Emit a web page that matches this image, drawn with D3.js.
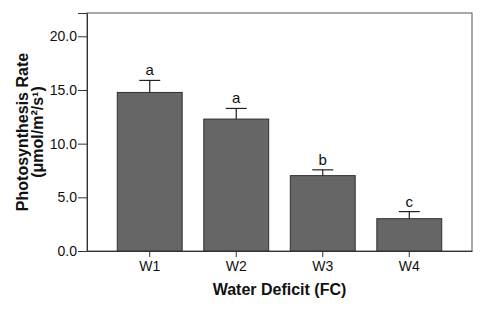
<!DOCTYPE html>
<html>
<head>
<meta charset="utf-8">
<script src="https://cdn.jsdelivr.net/npm/d3@7"></script>
<style>
  html, body { margin: 0; padding: 0; background: #fff; }
  svg { display: block; font-family: "Liberation Sans", Arial, sans-serif; }
</style>
</head>
<body>
<svg id="chart" width="484" height="312"></svg>
<script>
const categories = ["W1", "W2", "W3", "W4"];
const meanValues = [14.77, 12.29, 7.02, 3.01];
const errorValues = [1.12, 0.99, 0.54, 0.66];
const groupLetters = ["a", "a", "b", "c"];
const yTickValues = [0, 5, 10, 15, 20];

const svg = d3.select("#chart");
const pLeft = 87, pRight = 472, pTop = 13, pBottom = 251;

const x = d3.scaleBand().domain(categories).range([pLeft, pRight])
  .paddingInner(0.25).paddingOuter(0.35);
const y = d3.scaleLinear().domain([0, 22.17]).range([pBottom, pTop]);

// frame
svg.append("rect")
  .attr("x", pLeft).attr("y", pTop)
  .attr("width", pRight - pLeft).attr("height", pBottom - pTop)
  .attr("fill", "none").attr("stroke", "#555").attr("stroke-width", 1);

// bars
svg.append("g").selectAll("rect").data(categories).join("rect")
  .attr("x", d => x(d))
  .attr("y", (d, i) => y(meanValues[i]))
  .attr("width", x.bandwidth())
  .attr("height", (d, i) => y(0) - y(meanValues[i]))
  .attr("fill", "#666666").attr("stroke", "#2e2e2e").attr("stroke-width", 1);

// error bars
const eg = svg.append("g").attr("stroke", "#222").attr("stroke-width", 1.2);
categories.forEach((c, i) => {
  const cx = x(c) + x.bandwidth() / 2;
  eg.append("line").attr("x1", cx).attr("x2", cx)
    .attr("y1", y(meanValues[i])).attr("y2", y(meanValues[i] + errorValues[i]));
  eg.append("line").attr("x1", cx - 10.5).attr("x2", cx + 10.5)
    .attr("y1", y(meanValues[i] + errorValues[i])).attr("y2", y(meanValues[i] + errorValues[i]));
});

// letters
svg.append("g").selectAll("text").data(categories).join("text")
  .attr("x", d => x(d) + x.bandwidth() / 2)
  .attr("y", (d, i) => y(meanValues[i] + errorValues[i]) - 5)
  .attr("text-anchor", "middle")
  .attr("font-size", 15).attr("fill", "#111")
  .text((d, i) => groupLetters[i]);

// y axis
const yAxis = svg.append("g").attr("transform", `translate(${pLeft},0)`)
  .call(d3.axisLeft(y).tickValues(yTickValues).tickFormat(d3.format(".1f")).tickSize(9).tickPadding(1));
yAxis.select(".domain").attr("stroke", "#333");
yAxis.selectAll(".tick line").attr("stroke", "#333");
yAxis.selectAll(".tick text").attr("font-size", 14).attr("fill", "#111")
  .attr("font-family", "Liberation Sans, Arial, sans-serif");

// x axis
const xAxis = svg.append("g").attr("transform", `translate(0,${pBottom})`)
  .call(d3.axisBottom(x).tickSize(6).tickPadding(4).tickSizeOuter(0));
xAxis.select(".domain").attr("stroke", "#333");
xAxis.selectAll(".tick line").attr("stroke", "#333");
xAxis.selectAll(".tick text").attr("font-size", 14).attr("fill", "#111")
  .attr("font-family", "Liberation Sans, Arial, sans-serif");

// x title
svg.append("text")
  .attr("x", (pLeft + pRight) / 2).attr("y", 295)
  .attr("text-anchor", "middle").attr("font-size", 16).attr("font-weight", "bold").attr("fill", "#111")
  .text("Water Deficit (FC)");

// y title
const yt = svg.append("text")
  .attr("transform", `translate(0,${(pTop + pBottom) / 2}) rotate(-90)`)
  .attr("text-anchor", "middle").attr("font-size", 16).attr("font-weight", "bold").attr("fill", "#111");
yt.append("tspan").attr("x", 0).attr("y", 28).text("Photosynthesis Rate");
yt.append("tspan").attr("x", 0).attr("y", 43).text("(μmol/m²/s¹)");
</script>
</body>
</html>
